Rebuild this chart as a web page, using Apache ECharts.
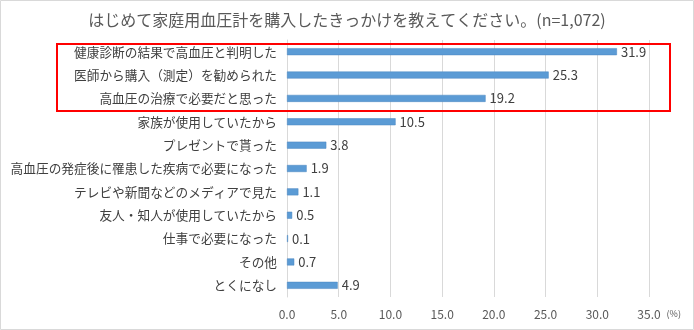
<!DOCTYPE html>
<html><head><meta charset="utf-8">
<script src="https://cdn.jsdelivr.net/npm/echarts@6/dist/echarts.min.js"></script>
<style>html,body{margin:0;padding:0;background:#fff}#c{width:694px;height:330px}</style>
</head><body><div id="c"></div>
<script>
const categories = ["健康診断の結果で高血圧と判明した","医師から購入（測定）を勧められた","高血圧の治療で必要だと思った","家族が使用していたから","プレゼントで貰った","高血圧の発症後に罹患した疾病で必要になった","テレビや新聞などのメディアで見た","友人・知人が使用していたから","仕事で必要になった","その他","とくになし"];
const values = [31.9,25.3,19.2,10.5,3.8,1.9,1.1,0.5,0.1,0.7,4.9];
const titleText = "はじめて家庭用血圧計を購入したきっかけを教えてください。(n=1,072)";
const FONT = '"Noto Sans CJK JP", "Noto Sans", sans-serif';
const chart = echarts.init(document.getElementById('c'), null, {renderer:'canvas'});
chart.setOption({
  animation:false,
  title:{text:titleText,left:'center',top:7,textStyle:{fontFamily:FONT,fontSize:16,fontWeight:'normal',color:'#595959'}},
  grid:{left:287,right:45,top:40,bottom:33,containLabel:false},
  xAxis:{type:'value',min:0,max:35,interval:5,name:'(%)',nameLocation:'end',nameGap:16,
    nameTextStyle:{fontFamily:FONT,fontSize:9,color:'#595959',verticalAlign:'top',padding:[12,0,0,0]},
    axisLine:{show:false},axisTick:{show:false},
    axisLabel:{fontFamily:FONT,fontSize:12,color:'#595959',margin:11,formatter:v=>v.toFixed(1)},
    splitLine:{lineStyle:{color:'#d9d9d9'}}},
  yAxis:{type:'category',data:categories,inverse:true,
    axisLine:{show:true,lineStyle:{color:'#d9d9d9'}},axisTick:{show:false},
    axisLabel:{fontFamily:FONT,fontSize:12.7,color:'#404040',margin:10}},
  series:[{type:'bar',data:values,barWidth:7,
    itemStyle:{color:'#5B9BD5',borderColor:'#4a86c0',borderWidth:0.5},
    label:{show:true,position:'right',distance:4,fontFamily:FONT,fontSize:13,color:'#404040',formatter:p=>p.value.toFixed(1)}}]
});
function addGraphics(){
  const top = chart.convertToPixel({yAxisIndex:0}, categories[0]);
  const third = chart.convertToPixel({yAxisIndex:0}, categories[2]);
  const step = chart.convertToPixel({yAxisIndex:0}, categories[1]) - top;
  chart.setOption({graphic:[
    {type:'rect',shape:{x:0.5,y:0.5,width:693,height:329},style:{fill:null,stroke:'#d9d9d9',lineWidth:1},silent:true},
    {type:'rect',shape:{x:57,y:top-step/2+4,width:613,height:(third-top)+step-3},style:{fill:null,stroke:'#ff0000',lineWidth:2},z:100,silent:true}
  ]});
}
addGraphics();
</script></body></html>
